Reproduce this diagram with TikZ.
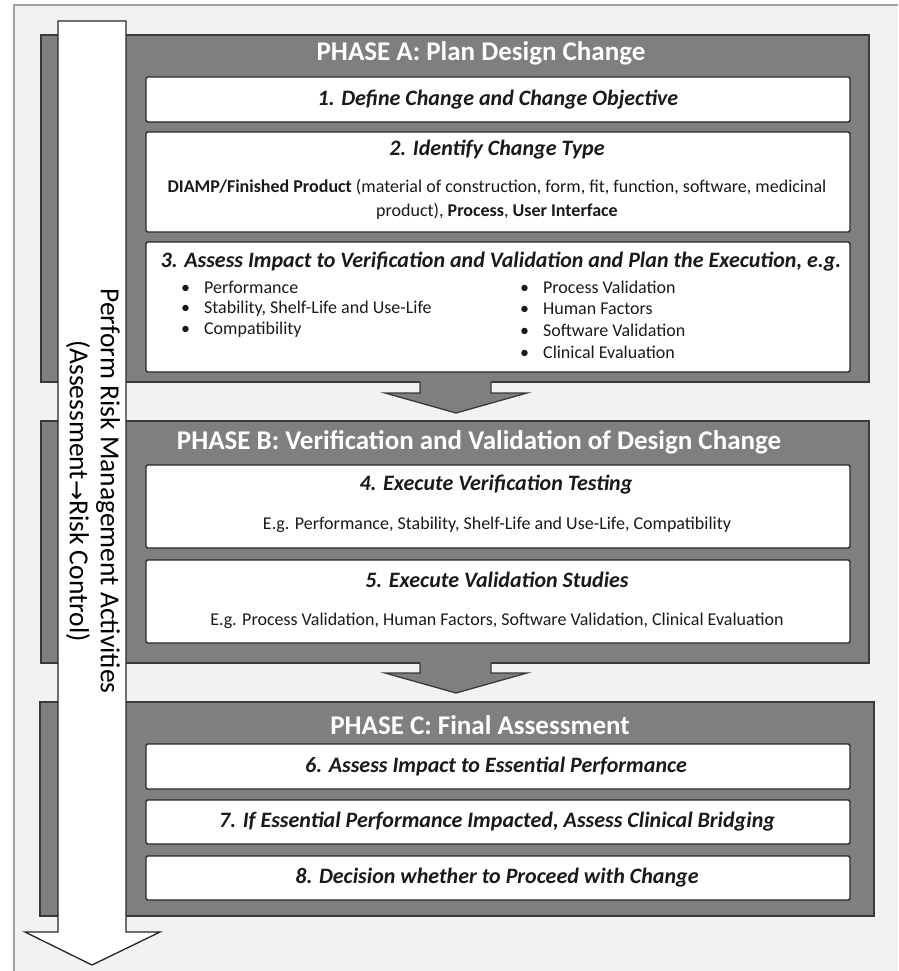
\documentclass[tikz,border=0pt]{standalone}
\usepackage{fontspec}
\setmainfont{Carlito}
\newfontfamily\symfont{DejaVu Sans}
\definecolor{bggray}{HTML}{F2F2F2}
\definecolor{framec}{HTML}{A0A0A0}
\definecolor{phgray}{HTML}{7F7F7F}
\definecolor{bordc}{HTML}{3A3A3A}
\definecolor{itemb}{HTML}{262626}
\definecolor{txt}{HTML}{1A1A1A}
\begin{document}
\begin{tikzpicture}[x=1pt,y=-1pt,
  phase/.style={fill=phgray, draw=bordc, line width=1.3pt, inner sep=0pt, outer sep=0pt, anchor=north west},
  item/.style={fill=white, draw=itemb, line width=1.3pt, rounded corners=2pt, inner sep=0pt, outer sep=0pt, anchor=north west, minimum width=704pt},
  phtitle/.style={text=white, font=\fontsize{27}{30}\selectfont\bfseries, inner sep=0pt},
  ittitle/.style={text=txt, font=\fontsize{22}{25}\selectfont\bfseries\itshape, inner sep=0pt},
  body/.style={text=txt, font=\fontsize{18}{24}\selectfont, inner sep=0pt},
  bul/.style={text=txt, font=\fontsize{18}{20}\selectfont, inner sep=0pt, anchor=west},
  bord/.style={draw=bordc, line width=1.3pt, line join=miter}
]
\useasboundingbox (0,0) rectangle (898,971);
\fill[white] (0,0) rectangle (898,971);
\fill[bggray] (14,5) rectangle (898,971);
\draw[framec, line width=1.5pt] (14,971) -- (14,5) -- (898,5);

% phases
\node[phase, minimum width=828pt, minimum height=347pt] (pa) at (41,35) {};
\node[phase, minimum width=828pt, minimum height=242pt] (pb) at (41,421) {};
\node[phase, minimum width=834pt, minimum height=214pt] (pc) at (40,702) {};

% block arrows between phases
\fill[phgray] (420,379) -- (420,393) -- (385,393) -- (456,413) -- (527,393) -- (491,393) -- (491,379) -- cycle;
\draw[bord] (420,382) -- (420,393) -- (385,393) -- (456,413) -- (527,393) -- (491,393) -- (491,382);
\fill[phgray] (420,660) -- (420,673) -- (385,673) -- (456,693) -- (527,673) -- (491,673) -- (491,660) -- cycle;
\draw[bord] (420,663) -- (420,673) -- (385,673) -- (456,693) -- (527,673) -- (491,673) -- (491,663);

% titles
\node[phtitle] (ta) at (481,53) {PHASE A: Plan Design Change};
\node[phtitle] (tb) at (479,442) {PHASE B: Verification and Validation of Design Change};
\node[phtitle] (tc) at (480,725) {PHASE C: Final Assessment};

% items
\node[item, minimum height=45pt] (i1) at (146,77) {};
\node[item, minimum height=100pt] (i2) at (146,132) {};
\node[item, minimum height=130pt] (i3) at (146,242) {};
\node[item, minimum height=83pt] (i4) at (146,465) {};
\node[item, minimum height=83pt] (i5) at (146,560) {};
\node[item, minimum height=45pt] (i6) at (146,744) {};
\node[item, minimum height=44pt] (i7) at (146,800) {};
\node[item, minimum height=44pt] (i8) at (146,856) {};

\node[ittitle] (t1) at (498,99.5) {1. Define Change and Change Objective};
\node[ittitle] (t2) at (497,150) {2. Identify Change Type};
\node[body] (b2a) at (497,187) {\textbf{DIAMP/Finished Product} (material of construction, form, fit, function, software, medicinal};
\node[body] (b2b) at (497,211) {product), \textbf{Process}, \textbf{User Interface}};
\node[ittitle] (t3) at (501,262) {3. Assess Impact to Verification and Validation and Plan the Execution, e.g.};
\node[bul] (l1) at (181,287) {\textbullet\hspace{14pt}Performance};
\node[bul] (l2) at (181,309) {\textbullet\hspace{14pt}Stability, Shelf-Life and Use-Life};
\node[bul] (l3) at (181,330) {\textbullet\hspace{14pt}Compatibility};
\node[bul] (r1) at (520,287) {\textbullet\hspace{14pt}Process Validation};
\node[bul] (r2) at (520,309) {\textbullet\hspace{14pt}Human Factors};
\node[bul] (r3) at (520,330) {\textbullet\hspace{14pt}Software Validation};
\node[bul] (r4) at (520,352) {\textbullet\hspace{14pt}Clinical Evaluation};
\node[ittitle] (t4) at (496,485) {4. Execute Verification Testing};
\node[body] (b4) at (497,525) {E.g. Performance, Stability, Shelf-Life and Use-Life, Compatibility};
\node[ittitle] (t5) at (497,580) {5. Execute Validation Studies};
\node[body] (b5) at (497,621) {E.g. Process Validation, Human Factors, Software Validation, Clinical Evaluation};
\node[ittitle] (t6) at (496,766) {6. Assess Impact to Essential Performance};
\node[ittitle] (t7) at (497,822) {7. If Essential Performance Impacted, Assess Clinical Bridging};
\node[ittitle] (t8) at (497,878) {8. Decision whether to Proceed with Change};

% big risk arrow
\draw[fill=white, draw=itemb, line width=1.3pt, line join=miter] (58,21) -- (126,21) -- (126,932) -- (160,932) -- (92,965) -- (25,932) -- (58,932) -- cycle;
\node[rotate=-90, align=center, text=black, font=\fontsize{27.5}{31}\selectfont, inner sep=0pt] (risk) at (93,491) {Perform Risk Management Activities\\(Assessment{\symfont\fontsize{24}{31}\selectfont →}Risk Control)};
\end{tikzpicture}
\end{document}
